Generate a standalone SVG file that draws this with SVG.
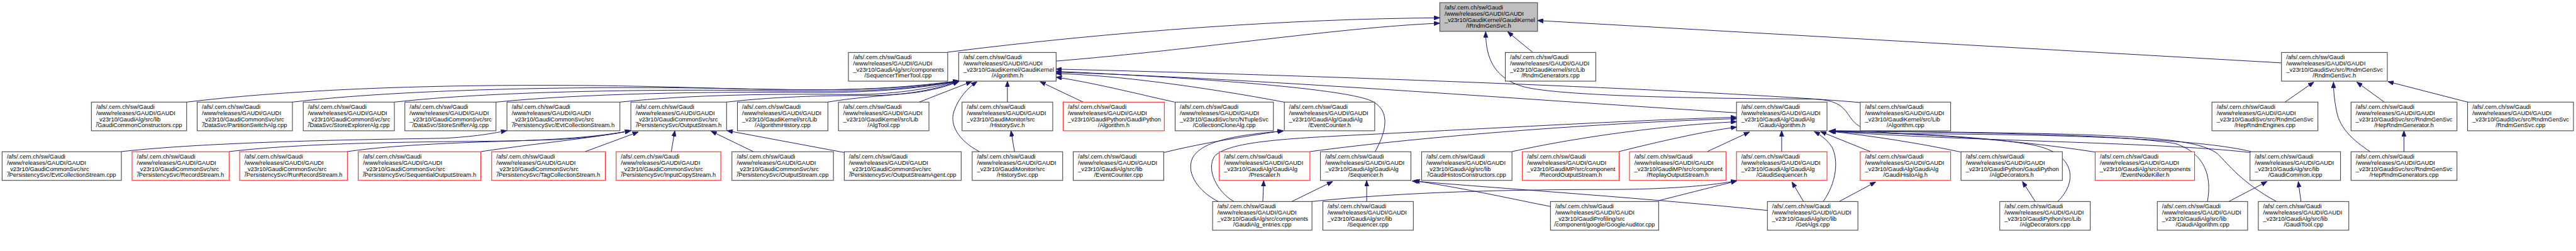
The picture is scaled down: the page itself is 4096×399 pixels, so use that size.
<svg xmlns="http://www.w3.org/2000/svg" width="4096" height="399" viewBox="0 0 4096 399">
<defs>
<marker id="ah" markerUnits="userSpaceOnUse" markerWidth="13" markerHeight="10" refX="13" refY="5" orient="auto" viewBox="0 0 13 10"><path d="M0,0L13,5L0,10z" fill="#191970" stroke="#191970" stroke-width="1"/></marker>
<style>
.nd rect{fill:#fff;stroke:#404040;stroke-width:1.5}
.rd rect{fill:#fff;stroke:#ff2020;stroke-width:1.5}
.rt rect{fill:#bfbfbf;stroke:#404040;stroke-width:1.5}
text{font-family:"Liberation Sans",Arial,Helvetica,sans-serif;font-size:13.3px;fill:#000}
.c{text-anchor:middle}
#edges path{fill:none;stroke:#191970;stroke-width:1.4;marker-end:url(#ah)}
</style>
</defs>
<rect x="0" y="0" width="4096" height="399" fill="#fff"/>
<g transform="scale(0.708773)">
<g id="edges">
<path d="M2126,117 C2500,70 2900,42 3230,40"/>
<path d="M2369,137 C2700,110 3000,62 3230,52"/>
<path d="M3438,117 L3382,71"/>
<path d="M5118,141 L3449,46"/>
<path d="M5050,340 C4950,315 4700,302 4300,300 C4190,299 4170,290 4150,262 C4130,230 4110,222 4050,222 C3800,221 3500,215 3420,195 C3345,175 3333,120 3333,71"/>
<path d="M419,229 C700,195 1100,185 1500,195 C1800,203 1950,208 2151,181"/>
<path d="M656,229 C900,200 1300,193 1600,198 C1850,203 1980,205 2151,182"/>
<path d="M885,229 C1100,205 1450,200 1700,203 C1900,206 2000,206 2151,182"/>
<path d="M1113,229 C1300,210 1600,205 1800,207 C1950,209 2050,200 2151,182"/>
<path d="M1391,229 C1550,212 1750,210 1900,212 C2000,213 2080,200 2151,182"/>
<path d="M1630,229 C1750,215 1880,214 1960,214 C2040,213 2100,200 2151,182"/>
<path d="M1857,229 C1920,218 2000,214 2050,208 C2090,203 2120,195 2151,183"/>
<path d="M2062,229 L2180,183"/>
<path d="M2260,229 L2260,182"/>
<path d="M2197,340 C2150,315 2130,280 2140,250 C2150,220 2170,198 2192,183"/>
<path d="M2276,340 L2268,293"/>
<path d="M2430,229 L2333,183"/>
<path d="M2635,229 C2550,210 2450,185 2369,173"/>
<path d="M2881,229 C2700,195 2500,168 2369,165"/>
<path d="M3085,340 C3110,295 3120,250 3080,228 C3030,200 2700,175 2369,160"/>
<path d="M4173,230 C3900,205 3000,170 2369,155"/>
<path d="M3896,253 C3400,222 2800,175 2369,162"/>
<path d="M272,340 C500,315 900,312 1000,310 C1080,305 1110,298 1137,293"/>
<path d="M514,340 C700,318 1000,318 1150,316 C1300,312 1380,300 1415,293"/>
<path d="M779,340 C900,322 1100,318 1250,313 C1340,308 1390,298 1415,293"/>
<path d="M1079,340 C1200,322 1330,310 1415,293"/>
<path d="M1313,340 L1432,296"/>
<path d="M1506,340 L1514,293"/>
<path d="M1690,340 L1595,294"/>
<path d="M1894,342 L1631,293"/>
<path d="M2611,342 C2700,320 2800,305 2879,293"/>
<path d="M2733,452 C2690,430 2660,390 2675,355 C2695,315 2780,302 2879,294"/>
<path d="M2768,452 C2730,430 2705,380 2725,350 C2760,315 2900,310 3100,300 C3400,285 3700,268 3896,263"/>
<path d="M2939,340 C3200,305 3600,275 3896,266"/>
<path d="M3392,340 C3550,305 3750,280 3896,273"/>
<path d="M3632,340 C3720,318 3820,295 3896,285"/>
<path d="M3830,340 L3925,296"/>
<path d="M3997,340 L3997,293"/>
<path d="M4196,340 L4084,295"/>
<path d="M4090,452 C4120,410 4125,360 4110,330 C4100,315 4085,303 4070,295"/>
<path d="M4399,341 C4300,320 4200,305 4102,294"/>
<path d="M4700,341 C4500,310 4300,300 4105,294"/>
<path d="M4616,452 C4660,410 4660,345 4560,325 C4450,305 4250,298 4105,295"/>
<path d="M4952,452 C4962,400 4950,345 4880,322 C4750,300 4400,297 4106,294"/>
<path d="M5107,452 C5030,410 5000,370 4975,345 C4940,318 4850,306 4600,300 C4400,296 4200,294 4106,293"/>
<path d="M5048,342 C4900,325 4600,318 4400,310 C4250,304 4150,298 4104,294"/>
<path d="M2898,452 L2990,407"/>
<path d="M3066,452 L3066,405"/>
<path d="M3965,472 C3700,445 3400,425 3168,406"/>
<path d="M3478,463 C3400,448 3300,425 3172,405"/>
<path d="M2833,452 L2835,405"/>
<path d="M2943,452 C3150,430 3400,425 3600,425 C3750,425 3850,415 3896,405"/>
<path d="M3721,450 C3800,430 3860,415 3896,406"/>
<path d="M4046,452 L4020,408"/>
<path d="M4126,452 L4208,408"/>
<path d="M4566,452 L4537,407"/>
<path d="M5000,452 L5086,407"/>
<path d="M5162,452 L5156,407"/>
<path d="M5126,229 L5191,184"/>
<path d="M5317,340 C5280,315 5250,290 5242,250 C5236,220 5235,200 5235,184"/>
<path d="M5349,229 L5287,184"/>
<path d="M5536,229 L5357,183"/>
<path d="M5393,340 L5393,293"/>
</g>

<g id="n0" class="rt"><rect x="3230" y="6" width="219.3" height="64.3"/><text><tspan x="3240.7" y="21.4">/afs/.cern.ch/sw/Gaudi</tspan><tspan x="3240.7" y="35.1">/www/releases/GAUDI/GAUDI</tspan><tspan x="3240.7" y="48.8">_v23r10/GaudiKernel/GaudiKernel</tspan></text><text class="c" x="3339.65" y="62.5">/IRndmGenSvc.h</text></g>

<g id="n1" class="nd"><rect x="1903.3" y="117.7" width="222.7" height="64.3"/><text><tspan x="1914" y="133.1">/afs/.cern.ch/sw/Gaudi</tspan><tspan x="1914" y="146.8">/www/releases/GAUDI/GAUDI</tspan><tspan x="1914" y="160.5">_v23r10/GaudiAlg/src/components</tspan></text><text class="c" x="2014.65" y="174.2">/SequencerTimerTool.cpp</text></g>
<g id="n2" class="nd"><rect x="2150.7" y="117.7" width="218.6" height="64.3"/><text><tspan x="2161.4" y="133.1">/afs/.cern.ch/sw/Gaudi</tspan><tspan x="2161.4" y="146.8">/www/releases/GAUDI/GAUDI</tspan><tspan x="2161.4" y="160.5">_v23r10/GaudiKernel/GaudiKernel</tspan></text><text class="c" x="2260" y="174.2">/Algorithm.h</text></g>
<g id="n3" class="nd"><rect x="3377" y="117.7" width="203" height="64.3"/><text><tspan x="3387.7" y="133.1">/afs/.cern.ch/sw/Gaudi</tspan><tspan x="3387.7" y="146.8">/www/releases/GAUDI/GAUDI</tspan><tspan x="3387.7" y="160.5">_v23r10/GaudiKernel/src/Lib</tspan></text><text class="c" x="3478.5" y="174.2">/RndmGenerators.cpp</text></g>
<g id="n4" class="nd"><rect x="5118.3" y="117.7" width="237.4" height="64.3"/><text><tspan x="5129" y="133.1">/afs/.cern.ch/sw/Gaudi</tspan><tspan x="5129" y="146.8">/www/releases/GAUDI/GAUDI</tspan><tspan x="5129" y="160.5">_v23r10/GaudiSvc/src/RndmGenSvc</tspan></text><text class="c" x="5237" y="174.2">/RndmGenSvc.h</text></g>

<g id="n5" class="nd"><rect x="205" y="229" width="213.7" height="64.3"/><text><tspan x="215.7" y="244.4">/afs/.cern.ch/sw/Gaudi</tspan><tspan x="215.7" y="258.1">/www/releases/GAUDI/GAUDI</tspan><tspan x="215.7" y="271.8">_v23r10/GaudiAlg/src/lib</tspan></text><text class="c" x="311.85" y="285.5">/GaudiCommonConstructors.cpp</text></g>
<g id="n6" class="nd"><rect x="442.3" y="229" width="213.7" height="64.3"/><text><tspan x="453" y="244.4">/afs/.cern.ch/sw/Gaudi</tspan><tspan x="453" y="258.1">/www/releases/GAUDI/GAUDI</tspan><tspan x="453" y="271.8">_v23r10/GaudiCommonSvc/src</tspan></text><text class="c" x="549.15" y="285.5">/DataSvc/PartitionSwitchAlg.cpp</text></g>
<g id="n7" class="nd"><rect x="680.3" y="229" width="204.4" height="64.3"/><text><tspan x="691" y="244.4">/afs/.cern.ch/sw/Gaudi</tspan><tspan x="691" y="258.1">/www/releases/GAUDI/GAUDI</tspan><tspan x="691" y="271.8">_v23r10/GaudiCommonSvc/src</tspan></text><text class="c" x="782.5" y="285.5">/DataSvc/StoreExplorerAlg.cpp</text></g>
<g id="n8" class="nd"><rect x="908.3" y="229" width="204.4" height="64.3"/><text><tspan x="919" y="244.4">/afs/.cern.ch/sw/Gaudi</tspan><tspan x="919" y="258.1">/www/releases/GAUDI/GAUDI</tspan><tspan x="919" y="271.8">_v23r10/GaudiCommonSvc/src</tspan></text><text class="c" x="1010.5" y="285.5">/DataSvc/StoreSnifferAlg.cpp</text></g>
<g id="n9" class="nd"><rect x="1137.3" y="229" width="253.4" height="64.3"/><text><tspan x="1148" y="244.4">/afs/.cern.ch/sw/Gaudi</tspan><tspan x="1148" y="258.1">/www/releases/GAUDI/GAUDI</tspan><tspan x="1148" y="271.8">_v23r10/GaudiCommonSvc/src</tspan></text><text class="c" x="1264" y="285.5">/PersistencySvc/EvtCollectionStream.h</text></g>
<g id="n10" class="nd"><rect x="1415.3" y="229" width="214.7" height="64.3"/><text><tspan x="1426" y="244.4">/afs/.cern.ch/sw/Gaudi</tspan><tspan x="1426" y="258.1">/www/releases/GAUDI/GAUDI</tspan><tspan x="1426" y="271.8">_v23r10/GaudiCommonSvc/src</tspan></text><text class="c" x="1522.65" y="285.5">/PersistencySvc/OutputStream.h</text></g>
<g id="n11" class="nd"><rect x="1654.3" y="229" width="203" height="64.3"/><text><tspan x="1665" y="244.4">/afs/.cern.ch/sw/Gaudi</tspan><tspan x="1665" y="258.1">/www/releases/GAUDI/GAUDI</tspan><tspan x="1665" y="271.8">_v23r10/GaudiKernel/src/Lib</tspan></text><text class="c" x="1755.8" y="285.5">/AlgorithmHistory.cpp</text></g>
<g id="n12" class="nd"><rect x="1881" y="229" width="203" height="64.3"/><text><tspan x="1891.7" y="244.4">/afs/.cern.ch/sw/Gaudi</tspan><tspan x="1891.7" y="258.1">/www/releases/GAUDI/GAUDI</tspan><tspan x="1891.7" y="271.8">_v23r10/GaudiKernel/src/Lib</tspan></text><text class="c" x="1982.5" y="285.5">/AlgTool.cpp</text></g>
<g id="n13" class="nd"><rect x="2158.3" y="229" width="203.4" height="64.3"/><text><tspan x="2169" y="244.4">/afs/.cern.ch/sw/Gaudi</tspan><tspan x="2169" y="258.1">/www/releases/GAUDI/GAUDI</tspan><tspan x="2169" y="271.8">_v23r10/GaudiMonitor/src</tspan></text><text class="c" x="2260" y="285.5">/HistorySvc.h</text></g>
<g id="n14" class="rd"><rect x="2385" y="229" width="227" height="64.3"/><text><tspan x="2395.7" y="244.4">/afs/.cern.ch/sw/Gaudi</tspan><tspan x="2395.7" y="258.1">/www/releases/GAUDI/GAUDI</tspan><tspan x="2395.7" y="271.8">_v23r10/GaudiPython/GaudiPython</tspan></text><text class="c" x="2498.5" y="285.5">/Algorithm.h</text></g>
<g id="n15" class="nd"><rect x="2636.3" y="229" width="220.4" height="64.3"/><text><tspan x="2647" y="244.4">/afs/.cern.ch/sw/Gaudi</tspan><tspan x="2647" y="258.1">/www/releases/GAUDI/GAUDI</tspan><tspan x="2647" y="271.8">_v23r10/GaudiSvc/src/NTupleSvc</tspan></text><text class="c" x="2746.5" y="285.5">/CollectionCloneAlg.cpp</text></g>
<g id="n16" class="nd"><rect x="2881.3" y="229" width="202.7" height="64.3"/><text><tspan x="2892" y="244.4">/afs/.cern.ch/sw/Gaudi</tspan><tspan x="2892" y="258.1">/www/releases/GAUDI/GAUDI</tspan><tspan x="2892" y="271.8">_v23r10/GaudiAlg/GaudiAlg</tspan></text><text class="c" x="2982.65" y="285.5">/EventCounter.h</text></g>
<g id="n17" class="nd"><rect x="3895.7" y="229" width="203" height="64.3"/><text><tspan x="3906.4" y="244.4">/afs/.cern.ch/sw/Gaudi</tspan><tspan x="3906.4" y="258.1">/www/releases/GAUDI/GAUDI</tspan><tspan x="3906.4" y="271.8">_v23r10/GaudiAlg/GaudiAlg</tspan></text><text class="c" x="3997.2" y="285.5">/GaudiAlgorithm.h</text></g>
<g id="n18" class="nd"><rect x="4173.3" y="229" width="202.7" height="64.3"/><text><tspan x="4184" y="244.4">/afs/.cern.ch/sw/Gaudi</tspan><tspan x="4184" y="258.1">/www/releases/GAUDI/GAUDI</tspan><tspan x="4184" y="271.8">_v23r10/GaudiKernel/src/Lib</tspan></text><text class="c" x="4274.65" y="285.5">/Algorithm.cpp</text></g>
<g id="n19" class="nd"><rect x="4962.3" y="229" width="237.7" height="64.3"/><text><tspan x="4973" y="244.4">/afs/.cern.ch/sw/Gaudi</tspan><tspan x="4973" y="258.1">/www/releases/GAUDI/GAUDI</tspan><tspan x="4973" y="271.8">_v23r10/GaudiSvc/src/RndmGenSvc</tspan></text><text class="c" x="5081.15" y="285.5">/HepRndmEngines.cpp</text></g>
<g id="n20" class="nd"><rect x="5274.3" y="229" width="237.7" height="64.3"/><text><tspan x="5285" y="244.4">/afs/.cern.ch/sw/Gaudi</tspan><tspan x="5285" y="258.1">/www/releases/GAUDI/GAUDI</tspan><tspan x="5285" y="271.8">_v23r10/GaudiSvc/src/RndmGenSvc</tspan></text><text class="c" x="5393.15" y="285.5">/HepRndmGenerator.h</text></g>
<g id="n21" class="nd"><rect x="5535.7" y="229" width="237.6" height="64.3"/><text><tspan x="5546.4" y="244.4">/afs/.cern.ch/sw/Gaudi</tspan><tspan x="5546.4" y="258.1">/www/releases/GAUDI/GAUDI</tspan><tspan x="5546.4" y="271.8">_v23r10/GaudiSvc/src/RndmGenSvc</tspan></text><text class="c" x="5654.5" y="285.5">/RndmGenSvc.cpp</text></g>

<g id="n22" class="nd"><rect x="4.7" y="340.3" width="267.6" height="64.3"/><text><tspan x="15.4" y="355.7">/afs/.cern.ch/sw/Gaudi</tspan><tspan x="15.4" y="369.4">/www/releases/GAUDI/GAUDI</tspan><tspan x="15.4" y="383.1">_v23r10/GaudiCommonSvc/src</tspan></text><text class="c" x="138.5" y="396.8">/PersistencySvc/EvtCollectionStream.cpp</text></g>
<g id="n23" class="rd"><rect x="296.3" y="340.3" width="217.7" height="64.3"/><text><tspan x="307" y="355.7">/afs/.cern.ch/sw/Gaudi</tspan><tspan x="307" y="369.4">/www/releases/GAUDI/GAUDI</tspan><tspan x="307" y="383.1">_v23r10/GaudiCommonSvc/src</tspan></text><text class="c" x="405.15" y="396.8">/PersistencySvc/RecordStream.h</text></g>
<g id="n24" class="rd"><rect x="537.7" y="340.3" width="241.6" height="64.3"/><text><tspan x="548.4" y="355.7">/afs/.cern.ch/sw/Gaudi</tspan><tspan x="548.4" y="369.4">/www/releases/GAUDI/GAUDI</tspan><tspan x="548.4" y="383.1">_v23r10/GaudiCommonSvc/src</tspan></text><text class="c" x="658.5" y="396.8">/PersistencySvc/RunRecordStream.h</text></g>
<g id="n25" class="rd"><rect x="803.7" y="340.3" width="275" height="64.3"/><text><tspan x="814.4" y="355.7">/afs/.cern.ch/sw/Gaudi</tspan><tspan x="814.4" y="369.4">/www/releases/GAUDI/GAUDI</tspan><tspan x="814.4" y="383.1">_v23r10/GaudiCommonSvc/src</tspan></text><text class="c" x="941.2" y="396.8">/PersistencySvc/SequentialOutputStream.h</text></g>
<g id="n26" class="rd"><rect x="1103" y="340.3" width="255" height="64.3"/><text><tspan x="1113.7" y="355.7">/afs/.cern.ch/sw/Gaudi</tspan><tspan x="1113.7" y="369.4">/www/releases/GAUDI/GAUDI</tspan><tspan x="1113.7" y="383.1">_v23r10/GaudiCommonSvc/src</tspan></text><text class="c" x="1230.5" y="396.8">/PersistencySvc/TagCollectionStream.h</text></g>
<g id="n27" class="rd"><rect x="1382.3" y="340.3" width="234.7" height="64.3"/><text><tspan x="1393" y="355.7">/afs/.cern.ch/sw/Gaudi</tspan><tspan x="1393" y="369.4">/www/releases/GAUDI/GAUDI</tspan><tspan x="1393" y="383.1">_v23r10/GaudiCommonSvc/src</tspan></text><text class="c" x="1499.65" y="396.8">/PersistencySvc/InputCopyStream.h</text></g>
<g id="n28" class="nd"><rect x="1642" y="340.3" width="227.7" height="64.3"/><text><tspan x="1652.7" y="355.7">/afs/.cern.ch/sw/Gaudi</tspan><tspan x="1652.7" y="369.4">/www/releases/GAUDI/GAUDI</tspan><tspan x="1652.7" y="383.1">_v23r10/GaudiCommonSvc/src</tspan></text><text class="c" x="1755.85" y="396.8">/PersistencySvc/OutputStream.cpp</text></g>
<g id="n29" class="nd"><rect x="1894" y="340.3" width="262.3" height="64.3"/><text><tspan x="1904.7" y="355.7">/afs/.cern.ch/sw/Gaudi</tspan><tspan x="1904.7" y="369.4">/www/releases/GAUDI/GAUDI</tspan><tspan x="1904.7" y="383.1">_v23r10/GaudiCommonSvc/src</tspan></text><text class="c" x="2025.15" y="396.8">/PersistencySvc/OutputStreamAgent.cpp</text></g>
<g id="n30" class="nd"><rect x="2181" y="340.3" width="203" height="64.3"/><text><tspan x="2191.7" y="355.7">/afs/.cern.ch/sw/Gaudi</tspan><tspan x="2191.7" y="369.4">/www/releases/GAUDI/GAUDI</tspan><tspan x="2191.7" y="383.1">_v23r10/GaudiMonitor/src</tspan></text><text class="c" x="2282.5" y="396.8">/HistorySvc.cpp</text></g>
<g id="n31" class="nd"><rect x="2407.7" y="340.3" width="203" height="64.3"/><text><tspan x="2418.4" y="355.7">/afs/.cern.ch/sw/Gaudi</tspan><tspan x="2418.4" y="369.4">/www/releases/GAUDI/GAUDI</tspan><tspan x="2418.4" y="383.1">_v23r10/GaudiAlg/src/lib</tspan></text><text class="c" x="2509.2" y="396.8">/EventCounter.cpp</text></g>
<g id="n32" class="rd"><rect x="2735.3" y="340.3" width="203.4" height="64.3"/><text><tspan x="2746" y="355.7">/afs/.cern.ch/sw/Gaudi</tspan><tspan x="2746" y="369.4">/www/releases/GAUDI/GAUDI</tspan><tspan x="2746" y="383.1">_v23r10/GaudiAlg/GaudiAlg</tspan></text><text class="c" x="2837" y="396.8">/Prescaler.h</text></g>
<g id="n33" class="nd"><rect x="2962.3" y="340.3" width="203" height="64.3"/><text><tspan x="2973" y="355.7">/afs/.cern.ch/sw/Gaudi</tspan><tspan x="2973" y="369.4">/www/releases/GAUDI/GAUDI</tspan><tspan x="2973" y="383.1">_v23r10/GaudiAlg/GaudiAlg</tspan></text><text class="c" x="3063.8" y="396.8">/Sequencer.h</text></g>
<g id="n34" class="nd"><rect x="3189.3" y="340.3" width="202.7" height="64.3"/><text><tspan x="3200" y="355.7">/afs/.cern.ch/sw/Gaudi</tspan><tspan x="3200" y="369.4">/www/releases/GAUDI/GAUDI</tspan><tspan x="3200" y="383.1">_v23r10/GaudiAlg/src/lib</tspan></text><text class="c" x="3290.65" y="396.8">/GaudiHistosConstructors.cpp</text></g>
<g id="n35" class="rd"><rect x="3415.3" y="340.3" width="217" height="64.3"/><text><tspan x="3426" y="355.7">/afs/.cern.ch/sw/Gaudi</tspan><tspan x="3426" y="369.4">/www/releases/GAUDI/GAUDI</tspan><tspan x="3426" y="383.1">_v23r10/GaudiMP/src/component</tspan></text><text class="c" x="3523.8" y="396.8">/RecordOutputStream.h</text></g>
<g id="n36" class="rd"><rect x="3655.7" y="340.3" width="216.3" height="64.3"/><text><tspan x="3666.4" y="355.7">/afs/.cern.ch/sw/Gaudi</tspan><tspan x="3666.4" y="369.4">/www/releases/GAUDI/GAUDI</tspan><tspan x="3666.4" y="383.1">_v23r10/GaudiMP/src/component</tspan></text><text class="c" x="3763.85" y="396.8">/ReplayOutputStream.h</text></g>
<g id="n37" class="rd"><rect x="3895.7" y="340.3" width="203" height="64.3"/><text><tspan x="3906.4" y="355.7">/afs/.cern.ch/sw/Gaudi</tspan><tspan x="3906.4" y="369.4">/www/releases/GAUDI/GAUDI</tspan><tspan x="3906.4" y="383.1">_v23r10/GaudiAlg/GaudiAlg</tspan></text><text class="c" x="3997.2" y="396.8">/GaudiSequencer.h</text></g>
<g id="n38" class="rd"><rect x="4173.3" y="340.3" width="202.7" height="64.3"/><text><tspan x="4184" y="355.7">/afs/.cern.ch/sw/Gaudi</tspan><tspan x="4184" y="369.4">/www/releases/GAUDI/GAUDI</tspan><tspan x="4184" y="383.1">_v23r10/GaudiAlg/GaudiAlg</tspan></text><text class="c" x="4274.65" y="396.8">/GaudiHistoAlg.h</text></g>
<g id="n39" class="nd"><rect x="4399.3" y="340.3" width="227.4" height="64.3"/><text><tspan x="4410" y="355.7">/afs/.cern.ch/sw/Gaudi</tspan><tspan x="4410" y="369.4">/www/releases/GAUDI/GAUDI</tspan><tspan x="4410" y="383.1">_v23r10/GaudiPython/GaudiPython</tspan></text><text class="c" x="4513" y="396.8">/AlgDecorators.h</text></g>
<g id="n40" class="rd"><rect x="4700.3" y="340.3" width="223" height="64.3"/><text><tspan x="4711" y="355.7">/afs/.cern.ch/sw/Gaudi</tspan><tspan x="4711" y="369.4">/www/releases/GAUDI/GAUDI</tspan><tspan x="4711" y="383.1">_v23r10/GaudiAlg/src/components</tspan></text><text class="c" x="4811.8" y="396.8">/EventNodeKiller.h</text></g>
<g id="n41" class="nd"><rect x="5047.7" y="340.3" width="203" height="64.3"/><text><tspan x="5058.4" y="355.7">/afs/.cern.ch/sw/Gaudi</tspan><tspan x="5058.4" y="369.4">/www/releases/GAUDI/GAUDI</tspan><tspan x="5058.4" y="383.1">_v23r10/GaudiAlg/src/lib</tspan></text><text class="c" x="5149.2" y="396.8">/GaudiCommon.icpp</text></g>
<g id="n42" class="nd"><rect x="5274.3" y="340.3" width="237.7" height="64.3"/><text><tspan x="5285" y="355.7">/afs/.cern.ch/sw/Gaudi</tspan><tspan x="5285" y="369.4">/www/releases/GAUDI/GAUDI</tspan><tspan x="5285" y="383.1">_v23r10/GaudiSvc/src/RndmGenSvc</tspan></text><text class="c" x="5393.15" y="396.8">/HepRndmGenerators.cpp</text></g>

<g id="n43" class="nd"><rect x="2720.3" y="452" width="223" height="64.3"/><text><tspan x="2731" y="467.4">/afs/.cern.ch/sw/Gaudi</tspan><tspan x="2731" y="481.1">/www/releases/GAUDI/GAUDI</tspan><tspan x="2731" y="494.8">_v23r10/GaudiAlg/src/components</tspan></text><text class="c" x="2831.8" y="508.5">/GaudiAlg_entries.cpp</text></g>
<g id="n44" class="nd"><rect x="2967.7" y="452" width="203" height="64.3"/><text><tspan x="2978.4" y="467.4">/afs/.cern.ch/sw/Gaudi</tspan><tspan x="2978.4" y="481.1">/www/releases/GAUDI/GAUDI</tspan><tspan x="2978.4" y="494.8">_v23r10/GaudiAlg/src/lib</tspan></text><text class="c" x="3069.2" y="508.5">/Sequencer.cpp</text></g>
<g id="n45" class="nd"><rect x="3478.3" y="452" width="242.7" height="64.3"/><text><tspan x="3489" y="467.4">/afs/.cern.ch/sw/Gaudi</tspan><tspan x="3489" y="481.1">/www/releases/GAUDI/GAUDI</tspan><tspan x="3489" y="494.8">_v23r10/GaudiProfiling/src</tspan></text><text class="c" x="3599.65" y="508.5">/component/google/GoogleAuditor.cpp</text></g>
<g id="n46" class="nd"><rect x="3965" y="452" width="203" height="64.3"/><text><tspan x="3975.7" y="467.4">/afs/.cern.ch/sw/Gaudi</tspan><tspan x="3975.7" y="481.1">/www/releases/GAUDI/GAUDI</tspan><tspan x="3975.7" y="494.8">_v23r10/GaudiAlg/src/lib</tspan></text><text class="c" x="4066.5" y="508.5">/GetAlgs.cpp</text></g>
<g id="n47" class="nd"><rect x="4486.3" y="452" width="203" height="64.3"/><text><tspan x="4497" y="467.4">/afs/.cern.ch/sw/Gaudi</tspan><tspan x="4497" y="481.1">/www/releases/GAUDI/GAUDI</tspan><tspan x="4497" y="494.8">_v23r10/GaudiPython/src/Lib</tspan></text><text class="c" x="4587.8" y="508.5">/AlgDecorators.cpp</text></g>
<g id="n48" class="nd"><rect x="4839.7" y="452" width="202.6" height="64.3"/><text><tspan x="4850.4" y="467.4">/afs/.cern.ch/sw/Gaudi</tspan><tspan x="4850.4" y="481.1">/www/releases/GAUDI/GAUDI</tspan><tspan x="4850.4" y="494.8">_v23r10/GaudiAlg/src/lib</tspan></text><text class="c" x="4941" y="508.5">/GaudiAlgorithm.cpp</text></g>
<g id="n49" class="nd"><rect x="5066.3" y="452" width="203" height="64.3"/><text><tspan x="5077" y="467.4">/afs/.cern.ch/sw/Gaudi</tspan><tspan x="5077" y="481.1">/www/releases/GAUDI/GAUDI</tspan><tspan x="5077" y="494.8">_v23r10/GaudiAlg/src/lib</tspan></text><text class="c" x="5167.8" y="508.5">/GaudiTool.cpp</text></g>
</g>
</svg>
